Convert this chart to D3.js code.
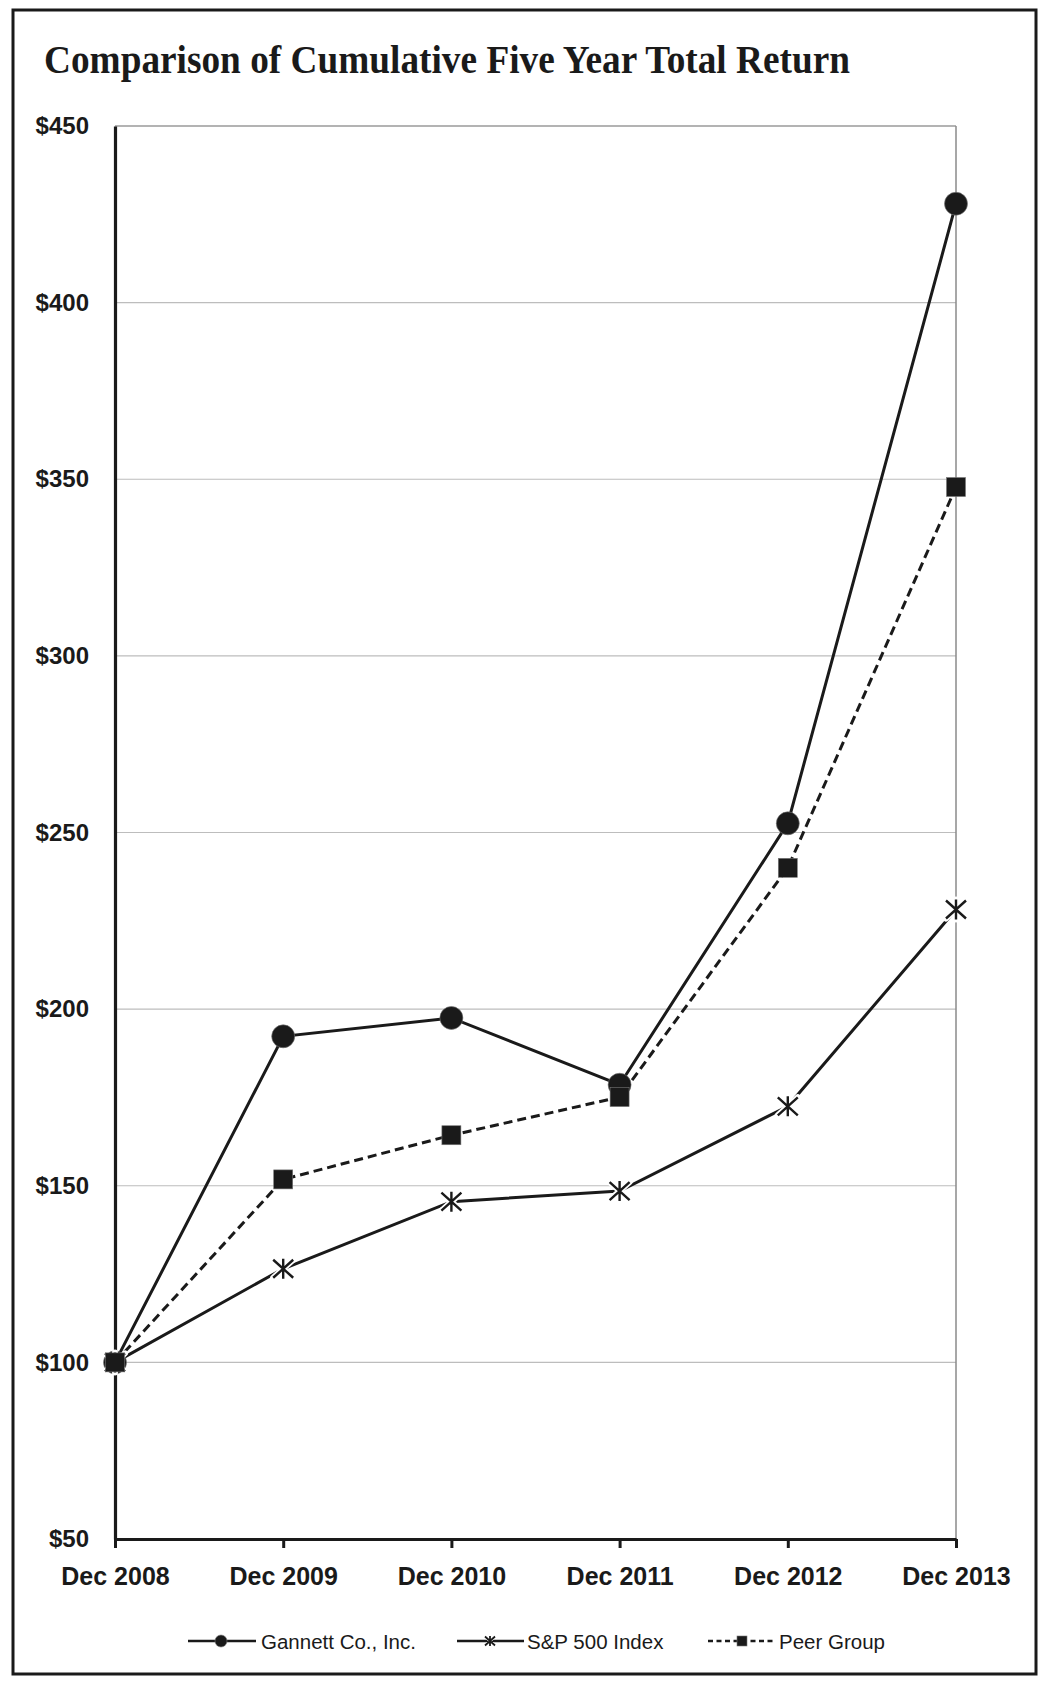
<!DOCTYPE html>
<html>
<head>
<meta charset="utf-8">
<script src="https://cdn.jsdelivr.net/npm/d3@7"></script>
<style>
  html, body { margin: 0; padding: 0; background: #fff; }
  svg { display: block; }
</style>
</head>
<body>
<script>
// ---- Data ----
const categories = ["Dec 2008", "Dec 2009", "Dec 2010", "Dec 2011", "Dec 2012", "Dec 2013"];
const gannett = [100, 192.3, 197.5, 178.6, 252.6, 428.0];
const sp500   = [100, 126.5, 145.5, 148.5, 172.5, 228.2];
const peer    = [100, 151.8, 164.3, 175.1, 240.0, 347.8];
const yTicks  = [50, 100, 150, 200, 250, 300, 350, 400, 450];
const seriesNames = ["Gannett Co., Inc.", "S&P 500 Index", "Peer Group"];
const titleText = "Comparison of Cumulative Five Year Total Return";

const W = 1050, H = 1687;
const ink = "#1a1a1a";
const svg = d3.select("body").append("svg").attr("width", W).attr("height", H);

// outer frame
svg.append("rect").attr("x", 13).attr("y", 10).attr("width", 1023).attr("height", 1664)
  .attr("fill", "none").attr("stroke", ink).attr("stroke-width", 3);

// title
svg.append("text").attr("x", 44).attr("y", 73)
  .attr("font-family", "'Liberation Serif', 'Times New Roman', serif")
  .attr("font-weight", "bold").attr("font-size", 39)
  .attr("textLength", 806).attr("lengthAdjust", "spacingAndGlyphs")
  .attr("fill", ink).text(titleText);

const x = d3.scalePoint().domain(categories).range([115, 956]).padding(0);
const y = d3.scaleLinear().domain([50, 450]).range([1539, 126]);

// gridlines
svg.append("g").selectAll("line").data(yTicks.filter(d => d > 50 && d < 450)).join("line")
  .attr("x1", 115).attr("x2", 956).attr("y1", d => y(d)).attr("y2", d => y(d))
  .attr("stroke", "#bdbdbd").attr("stroke-width", 1.2);
// top and right borders
svg.append("line").attr("x1", 115).attr("x2", 956).attr("y1", y(450)).attr("y2", y(450))
  .attr("stroke", "#9a9a9a").attr("stroke-width", 1.5);
svg.append("line").attr("x1", 956).attr("x2", 956).attr("y1", y(450)).attr("y2", y(50))
  .attr("stroke", "#8a8a8a").attr("stroke-width", 1.5);

// y axis labels
const yAxis = d3.axisLeft(y).tickValues(yTicks).tickSize(0).tickPadding(26)
  .tickFormat(d => "$" + d);
const gy = svg.append("g").attr("transform", "translate(115,0)").call(yAxis);
gy.select(".domain").attr("stroke", ink).attr("stroke-width", 3.2);
gy.selectAll("text").attr("font-family", "'Liberation Sans', Arial, sans-serif")
  .attr("font-weight", "bold").attr("font-size", 24).attr("fill", ink);

// x axis
const xAxis = d3.axisBottom(x).tickSize(9).tickSizeOuter(0).tickPadding(19);
const gx = svg.append("g").attr("transform", `translate(0,${y(50)})`).call(xAxis);
gx.select(".domain").attr("stroke", ink).attr("stroke-width", 3.2);
gx.selectAll(".tick line").attr("stroke", ink).attr("stroke-width", 3);
gx.selectAll("text").attr("font-family", "'Liberation Sans', Arial, sans-serif")
  .attr("font-weight", "bold").attr("font-size", 25).attr("fill", ink);

// lines
const line = d3.line().x((d, i) => x(categories[i])).y(d => y(d));
const series = [
  { vals: gannett, dash: null, marker: "circle" },
  { vals: sp500, dash: null, marker: "star" },
  { vals: peer, dash: "9,5", marker: "square" }
];
series.forEach(s => {
  svg.append("path").datum(s.vals).attr("d", line)
    .attr("fill", "none").attr("stroke", ink).attr("stroke-width", 3)
    .attr("stroke-dasharray", s.dash);
});

function drawMarker(g, type, cx, cy, size) {
  if (type === "circle") {
    g.append("circle").attr("cx", cx).attr("cy", cy).attr("r", size)
      .attr("fill", ink).attr("stroke", "#777").attr("stroke-width", 0.6);
  } else if (type === "square") {
    g.append("rect").attr("x", cx - size).attr("y", cy - size)
      .attr("width", size * 2).attr("height", size * 2)
      .attr("fill", ink).attr("stroke", "#777").attr("stroke-width", 0.6);
  } else {
    const a = size;
    const p = `M${cx - a},${cy - a * 0.9}L${cx + a},${cy + a * 0.9}M${cx + a},${cy - a * 0.9}L${cx - a},${cy + a * 0.9}M${cx},${cy - a}L${cx},${cy + a}`;
    g.append("path").attr("d", p).attr("stroke", "#fff").attr("stroke-width", size > 6 ? 6 : 3)
      .attr("stroke-linecap", "round");
    g.append("path").attr("d", p).attr("stroke", ink).attr("stroke-width", size > 6 ? 2.4 : 1.8);
  }
}

const mg = svg.append("g");
series.forEach(s => {
  s.vals.forEach((v, i) => {
    const size = s.marker === "circle" ? 11.5 : (s.marker === "square" ? 9.5 : 10);
    drawMarker(mg, s.marker, x(categories[i]), y(v), size);
  });
});

// legend
const legY = 1641;
const legend = [
  { x1: 188, x2: 256, mx: 221, text: 261, marker: "circle", size: 6, dash: null },
  { x1: 457, x2: 524, mx: 490, text: 527, marker: "star", size: 5, dash: null },
  { x1: 708, x2: 775, mx: 742, text: 779, marker: "square", size: 5, dash: "5,3.5" }
];
const lg = svg.append("g");
legend.forEach((l, i) => {
  lg.append("line").attr("x1", l.x1).attr("x2", l.x2).attr("y1", legY).attr("y2", legY)
    .attr("stroke", ink).attr("stroke-width", 2.4).attr("stroke-dasharray", l.dash);
  drawMarker(lg, l.marker, l.mx, legY, l.size);
  lg.append("text").attr("x", l.text).attr("y", legY + 7.5)
    .attr("font-family", "'Liberation Sans', Arial, sans-serif").attr("font-size", 20.5)
    .attr("fill", ink).text(seriesNames[i]);
});
</script>
</body>
</html>
